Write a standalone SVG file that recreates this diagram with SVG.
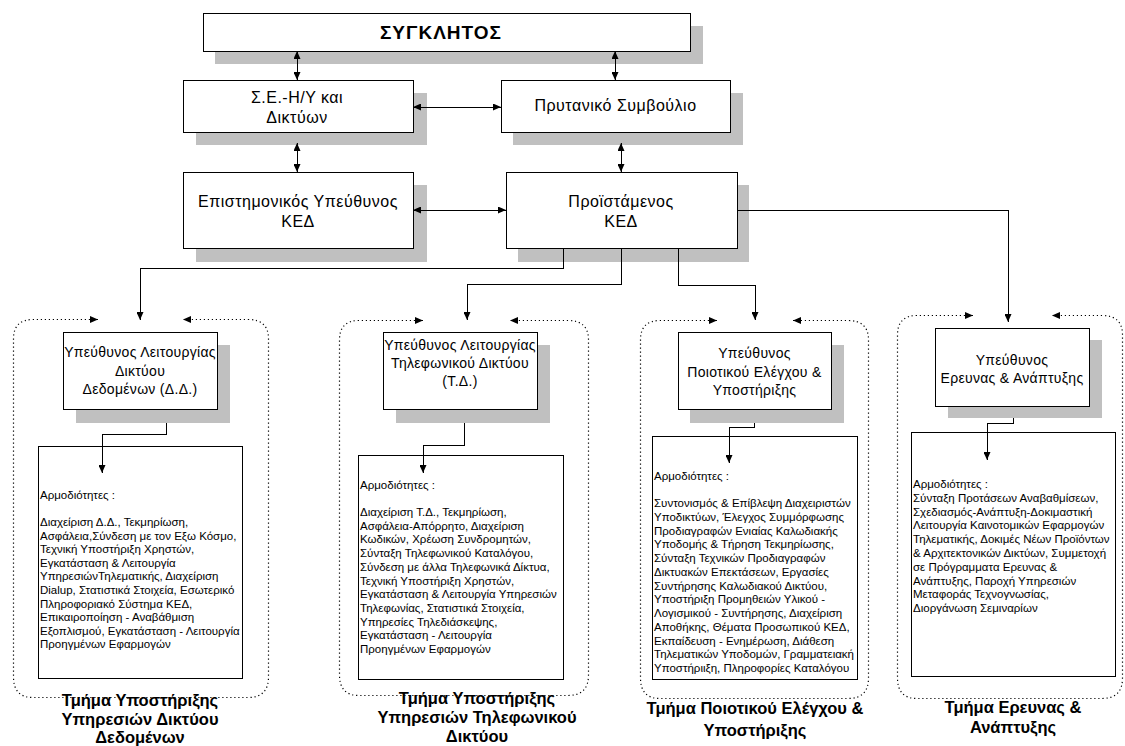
<svg xmlns="http://www.w3.org/2000/svg" width="1125" height="746" viewBox="0 0 1125 746">
<style>
text{font-family:"Liberation Sans",Arial,sans-serif;fill:#000}
.box{fill:#fff;stroke:#000;stroke-width:1;shape-rendering:crispEdges}
.sh{fill:#c0c0c0;shape-rendering:crispEdges}
.t15{font-size:16px;letter-spacing:0.5px;text-anchor:middle}
.t13{font-size:14px;letter-spacing:0.3px;text-anchor:middle}
.body{font-size:11.5px}
.lbl{font-size:16.5px;font-weight:bold;text-anchor:middle}
.ln{fill:none;stroke:#000;stroke-width:1;shape-rendering:crispEdges}
.arr{marker-end:url(#ah)}
.dbl{marker-start:url(#ah);marker-end:url(#ah)}
.dot{fill:none;stroke:#000;stroke-width:1.2;stroke-dasharray:1.2 2.8;marker-start:url(#ah);marker-end:url(#ah)}
</style>
<defs>
<marker id="ah" viewBox="0 0 8 7" markerWidth="8" markerHeight="7" refX="8" refY="3.5" orient="auto-start-reverse" markerUnits="userSpaceOnUse">
<path d="M0,0 L8,3.5 L0,7 z" fill="#000"/>
</marker>
</defs>
<rect width="1125" height="746" fill="#fff"/>

<g id="container-dd">
<path class="dot" d="M98,319.5 H33 Q13.5,319.5 13.5,339 V677 Q13.5,697.5 33,697.5 H248 Q268.5,697.5 268.5,677 V339 Q268.5,319.5 248,319.5 H183"/>
<text class="lbl" x="140" y="706">Τμήμα Υποστήριξης</text>
<text class="lbl" x="140" y="724.5">Υπηρεσιών Δικτύου</text>
<text class="lbl" x="140" y="743">Δεδομένων</text>
</g>
<g id="container-td">
<path class="dot" d="M423,320.5 H359 Q339.5,320.5 339.5,340 V675 Q339.5,695.5 359,695.5 H568 Q588.5,695.5 588.5,675 V340 Q588.5,320.5 568,320.5 H510"/>
<text class="lbl" x="477" y="704">Τμήμα Υποστήριξης</text>
<text class="lbl" x="477" y="723">Υπηρεσιών Τηλεφωνικού</text>
<text class="lbl" x="477" y="741.5">Δικτύου</text>
</g>
<g id="container-qa">
<path class="dot" d="M717,320.5 H660 Q640.5,320.5 640.5,340 V678 Q640.5,698.5 660,698.5 H848 Q868.5,698.5 868.5,678 V340 Q868.5,320.5 848,320.5 H793"/>
<text class="lbl" x="755" y="714">Τμήμα Ποιοτικού Ελέγχου &amp;</text>
<text class="lbl" x="755" y="736">Υποστήριξης</text>
</g>
<g id="container-rd">
<path class="dot" d="M973,315.5 H917 Q897.5,315.5 897.5,335 V678 Q897.5,698.5 917,698.5 H1102 Q1122.5,698.5 1122.5,678 V335 Q1122.5,315.5 1102,315.5 H1052"/>
<text class="lbl" x="1013" y="713">Τμήμα Ερευνας &amp;</text>
<text class="lbl" x="1013" y="733">Ανάπτυξης</text>
</g>

<g id="node-synklitos">
<rect class="sh" x="215" y="26" width="488" height="38"/>
<rect class="box" x="203" y="13" width="487" height="38"/>
<text x="441" y="39" style="font-size:19px;font-weight:bold;letter-spacing:1px;text-anchor:middle">ΣΥΓΚΛΗΤΟΣ</text>
</g>
<g id="node-se">
<rect class="sh" x="196" y="93" width="231" height="52"/>
<rect class="box" x="183" y="80" width="230" height="52"/>
<text class="t15" x="297" y="103">Σ.Ε.-Η/Υ και</text>
<text class="t15" x="297" y="123">Δικτύων</text>
</g>
<g id="node-prytaniko">
<rect class="sh" x="513" y="93" width="230" height="52"/>
<rect class="box" x="501" y="80" width="229" height="52"/>
<text class="t15" x="615.5" y="111">Πρυτανικό Συμβούλιο</text>
</g>
<g id="node-epistimonikos">
<rect class="sh" x="196" y="185" width="231" height="77"/>
<rect class="box" x="183" y="172" width="230" height="76"/>
<text class="t15" x="298" y="207">Επιστημονικός Υπεύθυνος</text>
<text class="t15" x="298" y="227">ΚΕΔ</text>
</g>
<g id="node-proistamenos">
<rect class="sh" x="518" y="185" width="231" height="77"/>
<rect class="box" x="506" y="172" width="231" height="76"/>
<text class="t15" x="621" y="207">Προϊστάμενος</text>
<text class="t15" x="621" y="227">ΚΕΔ</text>
</g>

<g id="node-ypeuthynos-dd">
<rect class="sh" x="76" y="345" width="154" height="78"/>
<rect class="box" x="63" y="332" width="154" height="77"/>
<text class="t13" x="140" y="357">Υπεύθυνος Λειτουργίας</text>
<text class="t13" x="140" y="375.5">Δικτύου</text>
<text class="t13" x="140" y="394">Δεδομένων (Δ.Δ.)</text>
</g>
<g id="node-ypeuthynos-td">
<rect class="sh" x="396" y="345" width="154" height="78"/>
<rect class="box" x="383" y="332" width="154" height="77"/>
<text class="t13" x="460" y="350">Υπεύθυνος Λειτουργίας</text>
<text class="t13" x="460" y="368">Τηλεφωνικού Δικτύου</text>
<text class="t13" x="460" y="386">(Τ.Δ.)</text>
</g>
<g id="node-ypeuthynos-qa">
<rect class="sh" x="690" y="345" width="154" height="78"/>
<rect class="box" x="678" y="332" width="153" height="77"/>
<text class="t13" x="754.5" y="357.5">Υπεύθυνος</text>
<text class="t13" x="754.5" y="377">Ποιοτικού Ελέγχου &amp;</text>
<text class="t13" x="754.5" y="395">Υποστήριξης</text>
</g>
<g id="node-ypeuthynos-rd">
<rect class="sh" x="948" y="340" width="154" height="78"/>
<rect class="box" x="935" y="328" width="154" height="78"/>
<text class="t13" x="1012" y="364.5">Υπεύθυνος</text>
<text class="t13" x="1012" y="382.5">Ερευνας &amp; Ανάπτυξης</text>
</g>

<g id="node-armodiotites-dd">
<rect class="box" x="38" y="446" width="204" height="232"/>
<text class="body">
<tspan x="40" y="499">Αρμοδιότητες :</tspan>
<tspan x="40" y="526">Διαχείριση Δ.Δ., Τεκμηρίωση,</tspan>
<tspan x="40" y="539.6">Ασφάλεια,Σύνδεση με τον Εξω Κόσμο,</tspan>
<tspan x="40" y="553.2">Τεχνική Υποστήριξη Χρηστών,</tspan>
<tspan x="40" y="566.8">Εγκατάσταση &amp; Λειτουργία</tspan>
<tspan x="40" y="580.4">ΥπηρεσιώνΤηλεματικής, Διαχείριση</tspan>
<tspan x="40" y="594">Dialup, Στατιστικά Στοιχεία, Εσωτερικό</tspan>
<tspan x="40" y="607.6">Πληροφοριακό Σύστημα ΚΕΔ,</tspan>
<tspan x="40" y="621.2">Επικαιροποίηση - Αναβάθμιση</tspan>
<tspan x="40" y="634.8">Εξοπλισμού, Εγκατάσταση - Λειτουργία</tspan>
<tspan x="40" y="648.4">Προηγμένων Εφαρμογών</tspan>
</text>
</g>
<g id="node-armodiotites-td">
<rect class="box" x="358" y="455" width="205" height="224"/>
<text class="body">
<tspan x="360" y="489">Αρμοδιότητες :</tspan>
<tspan x="360" y="516">Διαχείριση Τ.Δ., Τεκμηρίωση,</tspan>
<tspan x="360" y="529.7">Ασφάλεια-Απόρρητο, Διαχείριση</tspan>
<tspan x="360" y="543.4">Κωδικών, Χρέωση Συνδρομητών,</tspan>
<tspan x="360" y="557.1">Σύνταξη Τηλεφωνικού Καταλόγου,</tspan>
<tspan x="360" y="570.8">Σύνδεση με άλλα Τηλεφωνικά Δίκτυα,</tspan>
<tspan x="360" y="584.5">Τεχνική Υποστήριξη Χρηστών,</tspan>
<tspan x="360" y="598.2">Εγκατάσταση &amp; Λειτουργία Υπηρεσιών</tspan>
<tspan x="360" y="611.9">Τηλεφωνίας, Στατιστικά Στοιχεία,</tspan>
<tspan x="360" y="625.6">Υπηρεσίες Τηλεδιάσκεψης,</tspan>
<tspan x="360" y="639.3">Εγκατάσταση - Λειτουργία</tspan>
<tspan x="360" y="653">Προηγμένων Εφαρμογών</tspan>
</text>
</g>
<g id="node-armodiotites-qa">
<rect class="box" x="652" y="436" width="205" height="243"/>
<text class="body">
<tspan x="654" y="480">Αρμοδιότητες :</tspan>
<tspan x="654" y="507">Συντονισμός &amp; Επίβλεψη Διαχειριστών</tspan>
<tspan x="654" y="520.75">Υποδικτύων, Έλεγχος Συμμόρφωσης</tspan>
<tspan x="654" y="534.5">Προδιαγραφών Ενιαίας Καλωδιακής</tspan>
<tspan x="654" y="548.25">Υποδομής &amp; Τήρηση Τεκμηρίωσης,</tspan>
<tspan x="654" y="562">Σύνταξη Τεχνικών Προδιαγραφών</tspan>
<tspan x="654" y="575.75">Δικτυακών Επεκτάσεων, Εργασίες</tspan>
<tspan x="654" y="589.5">Συντήρησης Καλωδιακού Δικτύου,</tspan>
<tspan x="654" y="603.25">Υποστήριξη Προμηθειών Υλικού -</tspan>
<tspan x="654" y="617">Λογισμικού - Συντήρησης, Διαχείριση</tspan>
<tspan x="654" y="630.75">Αποθήκης, Θέματα Προσωπικού ΚΕΔ,</tspan>
<tspan x="654" y="644.5">Εκπαίδευση - Ενημέρωση, Διάθεση</tspan>
<tspan x="654" y="658.25">Τηλεματικών Υποδομών, Γραμματειακή</tspan>
<tspan x="654" y="672">Υποστήριιξη, Πληροφορίες  Καταλόγου</tspan>
</text>
</g>
<g id="node-armodiotites-rd">
<rect class="box" x="911" y="432" width="204" height="244"/>
<text class="body">
<tspan x="913" y="488">Αρμοδιότητες :</tspan>
<tspan x="913" y="501.8">Σύνταξη Προτάσεων Αναβαθμίσεων,</tspan>
<tspan x="913" y="515.6">Σχεδιασμός-Ανάπτυξη-Δοκιμαστική</tspan>
<tspan x="913" y="529.4">Λειτουργία Καινοτομικών Εφαρμογών</tspan>
<tspan x="913" y="543.2">Τηλεματικής, Δοκιμές Νέων Προϊόντων</tspan>
<tspan x="913" y="557">&amp; Αρχιτεκτονικών Δικτύων, Συμμετοχή</tspan>
<tspan x="913" y="570.8">σε Πρόγραμματα Ερευνας &amp;</tspan>
<tspan x="913" y="584.6">Ανάπτυξης, Παροχή Υπηρεσιών</tspan>
<tspan x="913" y="598.4">Μεταφοράς Τεχνογνωσίας,</tspan>
<tspan x="913" y="612.2">Διοργάνωση Σεμιναρίων</tspan>
</text>
</g>

<g id="connectors">
<path class="ln dbl" d="M297,51 V80"/>
<path class="ln dbl" d="M615,51 V80"/>
<path class="ln dbl" d="M413,107 H501"/>
<path class="ln dbl" d="M297,143 V172"/>
<path class="ln dbl" d="M621,143 V172"/>
<path class="ln dbl" d="M413,210 H506"/>
<path class="ln arr" d="M563,248 V268 H140 V320"/>
<path class="ln arr" d="M621,248 V284 H467 V320"/>
<path class="ln arr" d="M678,248 V285 H755 V320"/>
<path class="ln arr" d="M737,210 H1008 V322"/>
<path class="ln arr" d="M166,423 V434 H102 V473"/>
<path class="ln arr" d="M464,423 V445 H423 V473"/>
<path class="ln arr" d="M754,423 V427 H729 V463"/>
<path class="ln arr" d="M1013,418 V423 H987 V460"/>
</g>
</svg>
